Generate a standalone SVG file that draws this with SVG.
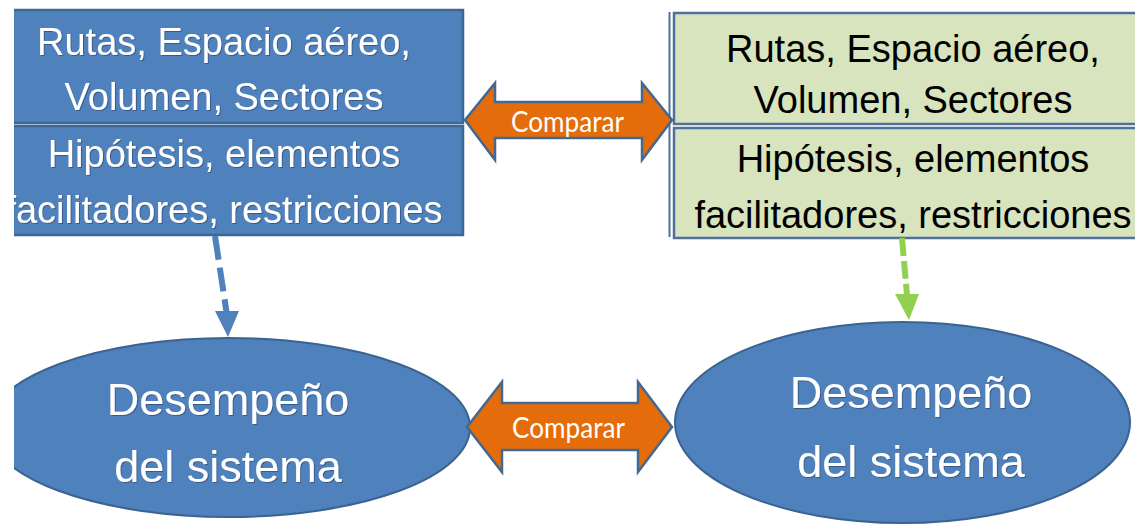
<svg xmlns="http://www.w3.org/2000/svg" width="1135" height="528" viewBox="0 0 1135 528">
<style>
.bl{fill:#4f81bd;stroke:#3d6796;stroke-width:2.5}
.gr{fill:#d7e4bd;stroke:#4f6f9c;stroke-width:2.5}
.wt{font-family:"Liberation Sans",Arial,sans-serif;font-size:38px;fill:#ffffff;text-anchor:middle}
.bt{font-family:"Liberation Sans",Arial,sans-serif;font-size:38px;fill:#000000;text-anchor:middle}
.et{font-family:"Liberation Sans",Arial,sans-serif;font-size:45px;fill:#ffffff;text-anchor:middle}
.arr{fill:#e46c0a;stroke:#44688f;stroke-width:2.5;stroke-linejoin:miter}
.cmp{font-family:Lato,"Liberation Sans",sans-serif;font-size:29px;fill:#ffffff;text-anchor:middle}
.ell{fill:#4f81bd;stroke:#3a6391;stroke-width:2}
</style>
<defs>
<clipPath id="crop"><rect x="14" y="0" width="1121" height="528"/></clipPath>
<filter id="sh" x="-5%" y="-20%" width="110%" height="140%"><feDropShadow dx="1" dy="1" stdDeviation="0.6" flood-color="#203050" flood-opacity="0.5"/></filter>
</defs>
<rect width="1135" height="528" fill="#ffffff"/>
<g clip-path="url(#crop)">
<g id="left-box">
<rect class="bl" x="13" y="10" width="450" height="113"/>
<rect class="bl" x="13" y="126" width="450" height="109"/>
<g filter="url(#sh)">
<text class="wt" x="224" y="55">Rutas, Espacio aéreo,</text>
<text class="wt" x="224" y="110">Volumen, Sectores</text>
<text class="wt" x="224" y="167">Hipótesis, elementos</text>
<text class="wt" x="224" y="223">facilitadores, restricciones</text>
</g>
</g>
<g id="right-box">
<line x1="669.5" y1="12" x2="669.5" y2="237" stroke="#4f6f9c" stroke-width="2"/>
<rect class="gr" x="674" y="13" width="480" height="111"/>
<rect class="gr" x="674" y="128" width="480" height="110"/>
<text class="bt" x="913" y="62">Rutas, Espacio aéreo,</text>
<text class="bt" x="913" y="113">Volumen, Sectores</text>
<text class="bt" x="913" y="172">Hipótesis, elementos</text>
<text class="bt" x="913" y="228">facilitadores, restricciones</text>
</g>
<g id="left-ellipse">
<ellipse class="ell" cx="229" cy="427.5" rx="241" ry="89.5"/>
<g filter="url(#sh)">
<text class="et" x="228" y="415">Desempeño</text>
<text class="et" x="228" y="482">del sistema</text>
</g>
</g>
<g id="right-ellipse">
<ellipse class="ell" cx="902.5" cy="422.5" rx="227.5" ry="100.5"/>
<g filter="url(#sh)">
<text class="et" x="911" y="408">Desempeño</text>
<text class="et" x="911" y="477">del sistema</text>
</g>
</g>
<g id="connectors">
<g id="compare-top">
<polygon class="arr" points="465,120 495,83 495,102 642,102 642,83 672,120 642,160 642,138 495,138 495,160"/>
<text class="cmp" x="567.5" y="132" textLength="113" lengthAdjust="spacingAndGlyphs">Comparar</text>
</g>
<g id="compare-bottom">
<polygon class="arr" points="467,427 502,382 502,403 638,403 638,382 672,427 638,472 638,450 502,450 502,472"/>
<text class="cmp" x="568.5" y="438" textLength="113" lengthAdjust="spacingAndGlyphs">Comparar</text>
</g>
<g id="dash-blue">
<line x1="215" y1="236" x2="226.5" y2="312" stroke="#4f81bd" stroke-width="6" stroke-dasharray="24 8"/>
<polygon points="215,311 239,311 228,337" fill="#4f81bd"/>
</g>
<g id="dash-green">
<line x1="902" y1="238" x2="907" y2="295" stroke="#92d050" stroke-width="6" stroke-dasharray="18 5"/>
<polygon points="895,294 919,294 909,320" fill="#92d050"/>
</g>
</g>
</g>
</svg>
